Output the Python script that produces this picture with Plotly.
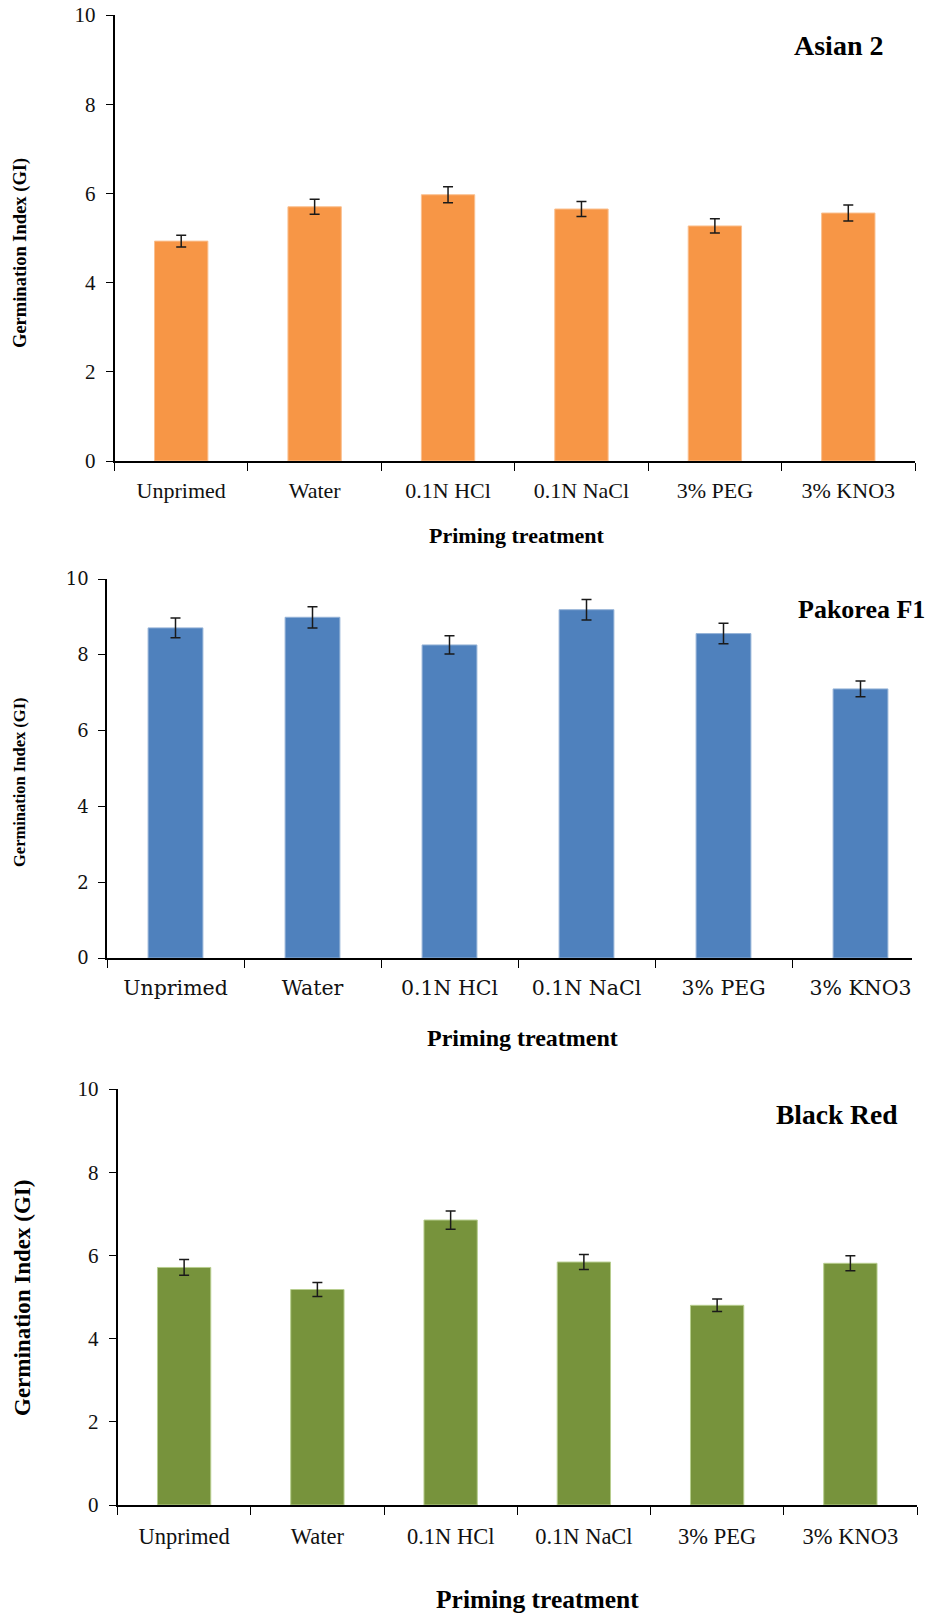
import plotly.graph_objects as go

# ---------------- data ----------------
categories = ["Unprimed", "Water", "0.1N HCl", "0.1N NaCl", "3% PEG", "3% KNO3"]

asian2_gi = [4.93, 5.70, 5.97, 5.65, 5.27, 5.56]
asian2_err = [0.13, 0.17, 0.18, 0.17, 0.16, 0.18]

pakorea_gi = [8.71, 8.99, 8.26, 9.19, 8.56, 7.10]
pakorea_err = [0.26, 0.28, 0.24, 0.27, 0.27, 0.21]

blackred_gi = [5.71, 5.18, 6.85, 5.84, 4.80, 5.81]
blackred_err = [0.19, 0.17, 0.22, 0.18, 0.15, 0.18]

y_ticks = [0, 2, 4, 6, 8, 10]

W, H = 930, 1615
OFF = 0  # page body margin removed in the html page (see post_script)
TIMES = "Liberation Serif"
WIDE = "DejaVu Serif"


def px_x(p):
    return (p - OFF) / W


def px_y(p):
    return 1 - (p - OFF) / H


fig = go.Figure()

panels = [
    dict(vals=asian2_gi, err=asian2_err, color="#F79646", edge="#FAC090",
         xd=(114.5, 915), yd=(461, 15), xr=[-0.5, 5.5], xa="x", ya="y",
         fam=TIMES, ytick_size=21, xtick_size=22, xstand=9),
    dict(vals=pakorea_gi, err=pakorea_err, color="#4F81BD", edge="#95B3D7",
         xd=(107, 912), yd=(958, 579), xr=[-0.5, -0.5 + (912 - 107) / 137.0], xa="x2", ya="y2",
         fam=WIDE, ytick_size=18, xtick_size=20.5, xstand=10),
    dict(vals=blackred_gi, err=blackred_err, color="#77933C", edge="#B7CD8E",
         xd=(117.5, 917), yd=(1505, 1089), xr=[-0.5, 5.5], xa="x3", ya="y3",
         fam=TIMES, ytick_size=21, xtick_size=22.5, xstand=10),
]

for i, p in enumerate(panels):
    fig.add_trace(go.Bar(
        x=categories, y=p["vals"], xaxis=p["xa"], yaxis=p["ya"],
        marker=dict(color=p["color"], line=dict(color=p["edge"], width=1)),
        error_y=dict(type="data", array=p["err"], visible=True,
                     color="#1a1a1a", thickness=1.5, width=5),
        showlegend=False,
    ))
    sfx = "" if i == 0 else str(i + 1)
    fig.update_layout(**{
        "xaxis" + sfx: dict(
            domain=[px_x(p["xd"][0]), px_x(p["xd"][1])],
            anchor="y" + sfx, range=p["xr"], type="category",
            showline=True, linecolor="#000000", linewidth=1.8,
            ticks="outside", tickson="boundaries", ticklen=8, tickwidth=1.3,
            tickcolor="#000000", showgrid=False, zeroline=False,
            tickfont=dict(family=p["fam"], size=p["xtick_size"], color="#111111"),
            ticklabelstandoff=p["xstand"], automargin=False,
        ),
        "yaxis" + sfx: dict(
            domain=[px_y(p["yd"][0]), px_y(p["yd"][1])],
            anchor="x" + sfx, range=[0, 10], tickvals=y_ticks,
            showline=True, linecolor="#000000", linewidth=1.5,
            ticks="outside", ticklen=7, tickwidth=1.3, tickcolor="#000000",
            showgrid=False, zeroline=False,
            tickfont=dict(family=p["fam"], size=p["ytick_size"], color="#111111"),
            ticklabelstandoff=6, automargin=False, ticklabeloverflow="allow",
        ),
    })

fig.update_layout(bargap=0.6)

ann = []


def add_text(text, x, y, size, angle=0, xanchor="center", fam=TIMES):
    ann.append(dict(text=text, x=px_x(x), y=px_y(y), xref="paper", yref="paper",
                    showarrow=False, textangle=angle, xanchor=xanchor, yanchor="middle",
                    font=dict(family=fam, size=size, color="#000000", weight="bold")))


# Panel 1
add_text("Asian 2", 838, 46, 28)
add_text("Germination Index (GI)", 20, 253, 18.5, angle=-90)
add_text("Priming treatment", 517, 535, 22)
# Panel 2
add_text("Pakorea F1", 927, 610, 26, xanchor="right")
add_text("Germination Index (GI)", 20, 782, 16.5, angle=-90)
add_text("Priming treatment", 522, 1038, 24)
# Panel 3
add_text("Black Red", 836, 1114, 27.5)
add_text("Germination Index (GI)", 22, 1298, 23, angle=-90)
add_text("Priming treatment", 537, 1599, 25.5)

fig.update_layout(
    width=W, height=H,
    margin=dict(l=0, r=0, t=0, b=0, autoexpand=False),
    paper_bgcolor="white", plot_bgcolor="white",
    annotations=ann,
)

fig.write_html("out.html", config={"displayModeBar": False},
               post_script="document.body.style.margin='0px';")
